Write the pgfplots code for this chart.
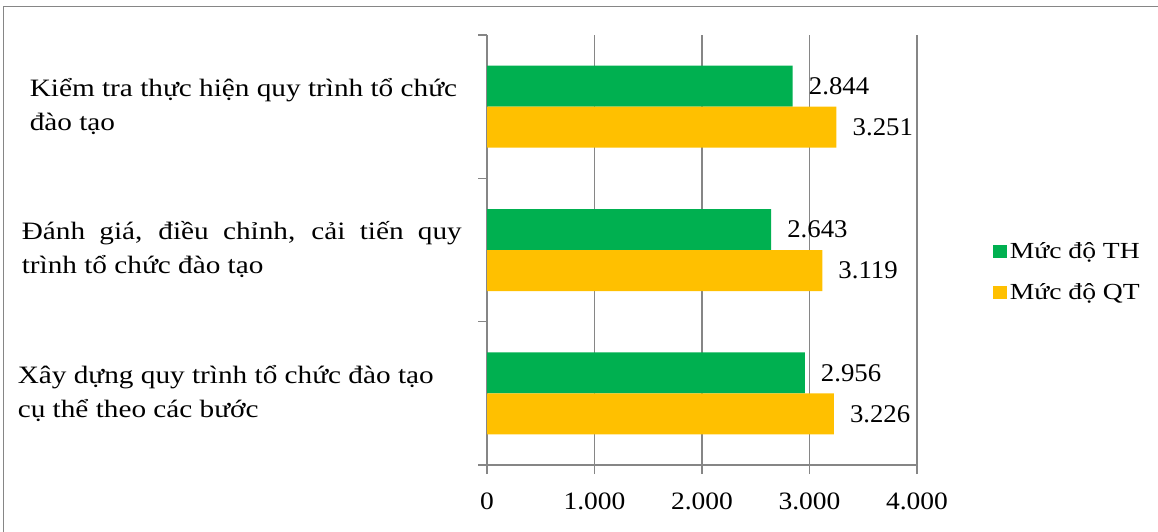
\documentclass[border=0pt]{standalone}
\usepackage{fontspec}
\setmainfont{Liberation Serif}[FakeStretch=1.17]
\newfontfamily\numfam{Liberation Serif}[FakeStretch=1.05]
\newfontfamily\tickfam{Liberation Serif}[FakeStretch=1.1]
\newfontfamily\legfam{Liberation Serif}[FakeStretch=1.2]
\usepackage{pgfplots}
\pgfplotsset{compat=1.18}
\definecolor{cTH}{RGB}{0,176,80}
\definecolor{cQT}{RGB}{255,192,0}
\definecolor{gridc}{RGB}{134,134,134}
\newcommand\mainf{\fontsize{25pt}{34pt}\selectfont}
\newcommand\numf{\numfam\fontsize{25.5pt}{30pt}\selectfont}
\newcommand\tickf{\tickfam\fontsize{25pt}{30pt}\selectfont}
\newcommand\legf{\legfam\fontsize{23pt}{27pt}\selectfont}
\begin{document}
\begin{tikzpicture}
\useasboundingbox (0,0) rectangle (1158pt,-532pt);
\draw[gridc, line width=1.5pt] (3.5pt,-600pt) -- (3.5pt,-6.5pt) -- (1300pt,-6.5pt);
\begin{axis}[
  at={(487pt,-465pt)}, anchor=south west,
  scale only axis, width=430pt, height=430pt,
  xmin=0, xmax=4, ymin=-0.5, ymax=2.5,
  clip=false,
  xbar, bar width=41pt,
  axis x line*=bottom, axis y line*=left,
  axis line style={gridc, -},
  x axis line style={line width=2pt},
  y axis line style={line width=1.3pt},
  xtick={0,1,2,3,4}, xticklabels={0,1.000,2.000,3.000,4.000},
  xmajorgrids, grid style={gridc, line width=1.3pt},
  tick style={gridc, line width=1.3pt},
  tick align=outside, major tick length=9pt,
  ytick={-0.5,0.5,1.5,2.5}, yticklabels={},
  extra y ticks={0,1,2},
  extra y tick labels={
    {\parbox{444pt}{Xây dựng quy trình tổ chức đào tạo\\cụ thể theo các bước}},
    {\parbox{440pt}{Đánh giá, điều chỉnh, cải tiến quy\linebreak trình tổ chức đào tạo}},
    {\parbox{432pt}{Kiểm tra thực hiện quy trình tổ chức\\đào tạo}}},
  extra y tick style={major tick length=0pt, grid=none},
  yticklabel style={font=\mainf, anchor=east, inner sep=0pt, xshift=-25pt},
  xticklabel style={font=\tickf, anchor=north, inner sep=0pt, yshift=-19pt},
  point meta=x,
  nodes near coords={\pgfmathprintnumber[fixed,fixed zerofill,precision=3,assume math mode=true]{\pgfplotspointmeta}},
  nodes near coords style={font=\numf, anchor=west, inner sep=0pt, xshift=16pt, text=black},
  legend style={draw=none, fill=none, at={(1.17,0.449)}, anchor=west, font=\legf,
    row sep=18pt, nodes={inner sep=3pt}},
  legend cell align=left,
  legend image code/.code={\fill[#1] (0pt,-6.5pt) rectangle (13.5pt,6.5pt);},
]
\addplot[fill=cTH, draw=none, bar shift=20.5pt] coordinates {(2.956,0) (2.643,1) (2.844,2)};
\addplot[fill=cQT, draw=none, bar shift=-20.5pt] coordinates {(3.226,0) (3.119,1) (3.251,2)};
\legend{Mức độ TH, Mức độ QT}
\end{axis}
\end{tikzpicture}
\end{document}
